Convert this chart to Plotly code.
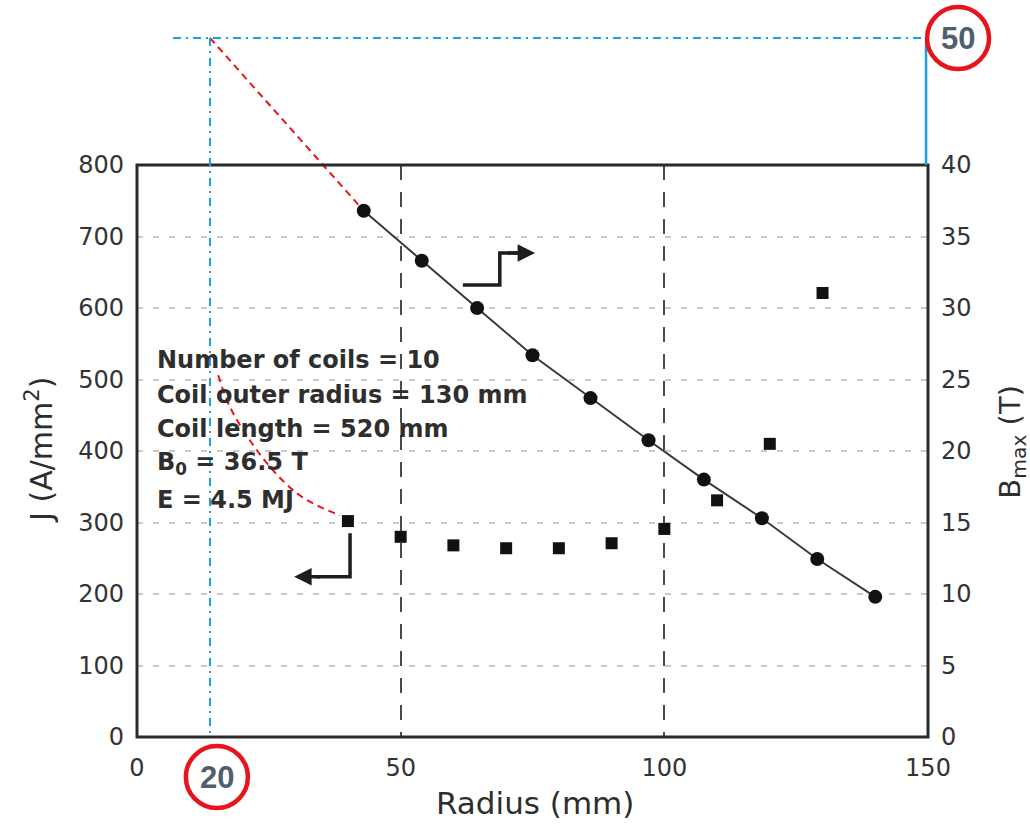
import plotly.graph_objects as go

# ---- data ----
radius_b = [43, 54, 64.5, 75, 86, 97, 107.5, 118.5, 129, 140]
b_max = [36.8, 33.3, 30.0, 26.7, 23.7, 20.75, 18.0, 15.3, 12.45, 9.8]

radius_j = [40, 50, 60, 70, 80, 90, 100, 110, 120, 130]
j_vals = [302, 280, 268, 264, 264, 271, 291, 331, 410, 621]

# hand-drawn red extrapolation of J (dashed)
extrap_r = [15.4, 17.6, 21.4, 25.8, 30.3, 34.1, 38.5]
extrap_j = [506, 462, 415, 373, 341, 324, 310]

x_ticks = [0, 50, 100, 150]
y_ticks = [0, 100, 200, 300, 400, 500, 600, 700, 800]
y2_ticks = [0, 5, 10, 15, 20, 25, 30, 35, 40]

info_lines = ["Number of coils = 10", "Coil outer radius = 130 mm",
              "Coil length = 520 mm", "B<sub>0</sub> = 36.5 T", "E = 4.5 MJ"]
info_y = [527, 478, 431, 382, 331]

X_MAX, Y2_MAX = 150, 40
target_r_label, target_b_label = "20", "50"

TICK_FONT = dict(family="DejaVu Sans", size=24, color="#333333")
TEXT_COL = "#2e2e2e"
BLUE = "#1a9fe0"
RED = "#e8131b"

fig = go.Figure()

fig.add_trace(go.Scatter(x=extrap_r, y=extrap_j, mode="lines",
                         line=dict(color=RED, width=2, dash="7px,5px", shape="spline"),
                         showlegend=False, hoverinfo="skip"))

fig.add_trace(go.Scatter(x=radius_j, y=j_vals, mode="markers",
                         marker=dict(symbol="square", size=12, color="#111111"),
                         showlegend=False))

fig.add_trace(go.Scatter(x=radius_b, y=b_max, mode="lines+markers", yaxis="y2",
                         line=dict(color="#3a3a3a", width=2),
                         marker=dict(symbol="circle", size=14, color="#111111"),
                         showlegend=False))

shapes = []
# plot frame
shapes.append(dict(type="rect", xref="paper", yref="paper", x0=0, x1=1, y0=0, y1=1,
                   line=dict(color="#2a2a2a", width=3), layer="above"))

# annotation construction lines (blue), in paper units above the plot
px_l = 0.0923  # vertical dash-dot line position
py_top = 1.222
shapes.append(dict(type="line", xref="paper", yref="paper", x0=0.0455, x1=0.9975,
                   y0=py_top, y1=py_top, line=dict(color=BLUE, width=2, dash="8px,5px,2px,5px"),
                   layer="above"))
shapes.append(dict(type="line", xref="paper", yref="paper", x0=px_l, x1=px_l,
                   y0=py_top, y1=0, line=dict(color=BLUE, width=2, dash="8px,5px,2px,5px"),
                   layer="above"))
shapes.append(dict(type="line", xref="paper", yref="paper", x0=0.9975, x1=0.9975,
                   y0=py_top, y1=1.0, line=dict(color=BLUE, width=2.5), layer="above"))
# red extrapolation to the 50 T point
shapes.append(dict(type="line", xref="paper", yref="paper", x0=px_l, y0=py_top,
                   x1=radius_b[0] / X_MAX, y1=b_max[0] / Y2_MAX,
                   line=dict(color=RED, width=2, dash="7px,5px"), layer="below"))

# red circles around the labels
circle_pos = [(1.038, 1.222), (0.101, -0.070)]
for cx, cy in circle_pos:
    shapes.append(dict(type="circle", xref="paper", yref="paper",
                       xsizemode="pixel", ysizemode="pixel", xanchor=cx, yanchor=cy,
                       x0=-31, x1=31, y0=-31, y1=31,
                       line=dict(color=RED, width=4.5), layer="above"))

# step arrows
shapes.append(dict(type="path", xref="x", yref="y",
                   path="M 61.8 632 L 68.8 632 L 68.8 677 L 72.5 677",
                   line=dict(color="#1e1e1e", width=3.5)))
shapes.append(dict(type="path", xref="x", yref="y",
                   path="M 40.4 285 L 40.4 224 L 34 224",
                   line=dict(color="#1e1e1e", width=3.5)))

annotations = []
annotations.append(dict(x=75.5, y=677, ax=70, ay=677, xref="x", yref="y", axref="x", ayref="y",
                        showarrow=True, arrowhead=2, arrowsize=1, arrowwidth=3.5,
                        arrowcolor="#1e1e1e", text=""))
annotations.append(dict(x=29.8, y=224, ax=35, ay=224, xref="x", yref="y", axref="x", ayref="y",
                        showarrow=True, arrowhead=2, arrowsize=1, arrowwidth=3.5,
                        arrowcolor="#1e1e1e", text=""))

for t, yv in zip(info_lines, info_y):
    annotations.append(dict(x=3.4, y=yv, xref="x", yref="y", text=t, showarrow=False,
                            xanchor="left", yanchor="middle",
                            font=dict(family="DejaVu Sans", size=24, color=TEXT_COL, weight="bold")))

for (cx, cy), lab in zip(circle_pos, [target_b_label, target_r_label]):
    annotations.append(dict(x=cx, y=cy, xref="paper", yref="paper", text=f"<b>{lab}</b>",
                            xanchor="center", yanchor="middle", showarrow=False,
                            font=dict(family="Liberation Sans", size=31, color="#4f5f6b")))

annotations.append(dict(x=0.503, y=-0.115, xref="paper", yref="paper", text="Radius (mm)",
                        xanchor="center", yanchor="middle", showarrow=False,
                        font=dict(family="DejaVu Sans", size=31, color=TEXT_COL)))
annotations.append(dict(x=-0.1226, y=0.502, xref="paper", yref="paper", text="J (A/mm<sup>2</sup>)",
                        xanchor="center", yanchor="middle", textangle=-90, showarrow=False,
                        font=dict(family="DejaVu Sans", size=30, color=TEXT_COL)))
annotations.append(dict(x=1.106, y=0.516, xref="paper", yref="paper", text="B<sub>max</sub> (T)",
                        xanchor="center", yanchor="middle", textangle=-90, showarrow=False,
                        font=dict(family="DejaVu Sans", size=29, color=TEXT_COL)))

fig.update_layout(
    width=1030, height=825,
    margin=dict(l=137, r=102, t=165, b=88),
    paper_bgcolor="white", plot_bgcolor="rgba(0,0,0,0)",
    xaxis=dict(range=[0, X_MAX], tickvals=x_ticks, showgrid=True, gridcolor="#4a4a4a",
               gridwidth=2, griddash="15px,12px", zeroline=False, showline=False,
               ticks="", tickfont=TICK_FONT, ticklabelstandoff=14),
    yaxis=dict(range=[0, 800], tickvals=y_ticks, showgrid=True, gridcolor="#c8c8c8",
               gridwidth=1.5, griddash="6px,10px", zeroline=False, showline=False,
               ticks="", tickfont=TICK_FONT, ticklabelstandoff=12),
    yaxis2=dict(range=[0, Y2_MAX], tickvals=y2_ticks, overlaying="y", side="right",
                showgrid=False, zeroline=False, showline=False, ticks="",
                tickfont=TICK_FONT, ticklabelstandoff=12),
    shapes=shapes, annotations=annotations, showlegend=False,
)

fig.write_html("out.html")
